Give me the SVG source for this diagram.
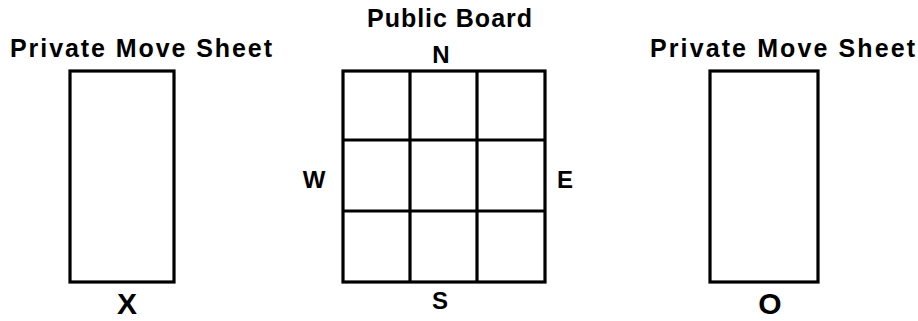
<svg xmlns="http://www.w3.org/2000/svg" width="918" height="321" viewBox="0 0 918 321">
<style>
text{font-family:"Liberation Sans",Arial,Helvetica,sans-serif;font-weight:bold;fill:#000}
.t{font-size:25px}
.l{font-size:24px;text-anchor:middle}
.b{font-size:30px;text-anchor:middle}
.box{fill:none;stroke:#000;stroke-width:3.2}
.ln{stroke:#000;stroke-width:3.2;fill:none}
</style>
<rect width="918" height="321" fill="#fff"/>
<g id="sheet-x">
<text class="t" x="10" y="57" textLength="262" lengthAdjust="spacing">Private Move Sheet</text>
<rect class="box" x="70" y="71" width="104" height="211"/>
<text class="b" x="127" y="314">X</text>
</g>
<g id="board">
<text class="t" x="367" y="27" textLength="165" lengthAdjust="spacing">Public Board</text>
<text class="l" x="441" y="63">N</text>
<rect class="box" x="343" y="71" width="202" height="211"/>
<g class="ln">
<line x1="410" y1="71" x2="410" y2="282"/>
<line x1="477" y1="71" x2="477" y2="282"/>
<line x1="343" y1="140" x2="545" y2="140"/>
<line x1="343" y1="211" x2="545" y2="211"/>
</g>
<text class="l" x="314" y="188">W</text>
<text class="l" x="565" y="188">E</text>
<text class="l" x="440" y="309">S</text>
</g>
<g id="sheet-o">
<text class="t" x="650" y="57" textLength="265" lengthAdjust="spacing">Private Move Sheet</text>
<rect class="box" x="710" y="71" width="108" height="211"/>
<text class="b" x="770" y="314">O</text>
</g>
<g id="connectors"></g>
</svg>
